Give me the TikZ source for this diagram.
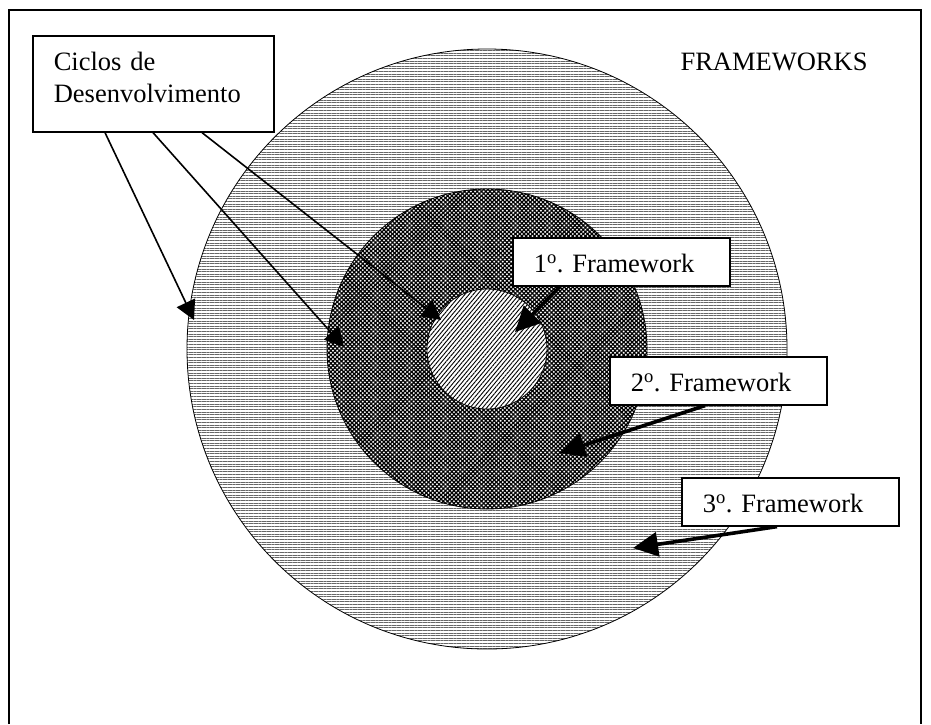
\documentclass[tikz,border=0pt]{standalone}
\usepackage{fontspec}
\setmainfont{Liberation Serif}
\usetikzlibrary{arrows.meta,patterns.meta,calc}

\pgfdeclarelayer{rings}
\pgfdeclarelayer{links}
\pgfsetlayers{rings,links,main}

\begin{document}
\begin{tikzpicture}[x=1pt,y=-1pt,
  txt/.style={font=\fontsize{26.5}{32}\selectfont\frenchspacing},
  labelbox/.style={txt, draw=black, line width=1.6pt, fill=white,
    anchor=north west, inner xsep=21pt, align=left},
  fwbox/.style={labelbox, text width=175pt, minimum height=48pt,
    text height=22pt, text depth=0pt},
  ring/.style={draw=black, line width=0.8pt},
  thinarrow/.style={line width=1.6pt, -{Triangle[length=19pt,width=20pt]}},
  thickarrow/.style={line width=3.6pt, -{Triangle[length=25pt,width=24pt]}}]

\useasboundingbox (0,0) rectangle (931,724);

% outer frame (open at the bottom edge)
\draw[line width=2pt] (9,724) -- (9,10) -- (921,10) -- (921,724);

% concentric framework rings
\begin{pgfonlayer}{rings}
\coordinate (c) at (487,349);
\path[pattern={Lines[angle=0,distance=2.6pt,line width=0.9pt]},
      pattern color=black!60] (c) circle[radius=300];
\draw[ring] (c) circle[radius=300];

\fill[white] (c) circle[radius=160];
\path[pattern={Lines[angle=45,distance=3pt,line width=1.25pt]}] (c) circle[radius=160];
\path[pattern={Lines[angle=-45,distance=3pt,line width=1.25pt]}] (c) circle[radius=160];
\draw[ring] (c) circle[radius=160];

\fill[white] (c) circle[radius=60];
\path[pattern={Lines[angle=50,distance=3.2pt,line width=0.9pt]}] (c) circle[radius=60];
\draw[ring] (c) circle[radius=60];
\end{pgfonlayer}

% label boxes
\node[labelbox, text width=199pt, minimum height=96pt,
      text height=18pt, text depth=44pt] (ciclos) at (32,35)
      {Ciclos de\\Desenvolvimento};
\node[fwbox] (fw1) at (512,237) {1\textsuperscript{o}. Framework};
\node[fwbox] (fw2) at (609,356) {2\textsuperscript{o}. Framework};
\node[fwbox] (fw3) at (681,477) {3\textsuperscript{o}. Framework};

\node[txt, anchor=base west] (title) at (677,70) {FRAMEWORKS};

% arrow targets
\coordinate (t1) at (194,320);
\coordinate (t2) at (344,347);
\coordinate (t3) at (441,320);
\coordinate (u1) at (515,332);
\coordinate (u2) at (560,453);
\coordinate (u3) at (633,548);

% connectors, kept beneath the boxes
\begin{pgfonlayer}{links}
\draw[thinarrow] ([xshift=73pt]ciclos.south west) -- (t1);
\draw[thinarrow] ([xshift=121pt]ciclos.south west) -- (t2);
\draw[thinarrow] ([xshift=170pt]ciclos.south west) -- (t3);
\draw[thickarrow] ([xshift=48pt]fw1.south west) -- (u1);
\draw[thickarrow] ([xshift=96pt]fw2.south west) -- (u2);
\draw[thickarrow] ([xshift=96pt]fw3.south west) -- (u3);
\end{pgfonlayer}
\end{tikzpicture}
\end{document}
